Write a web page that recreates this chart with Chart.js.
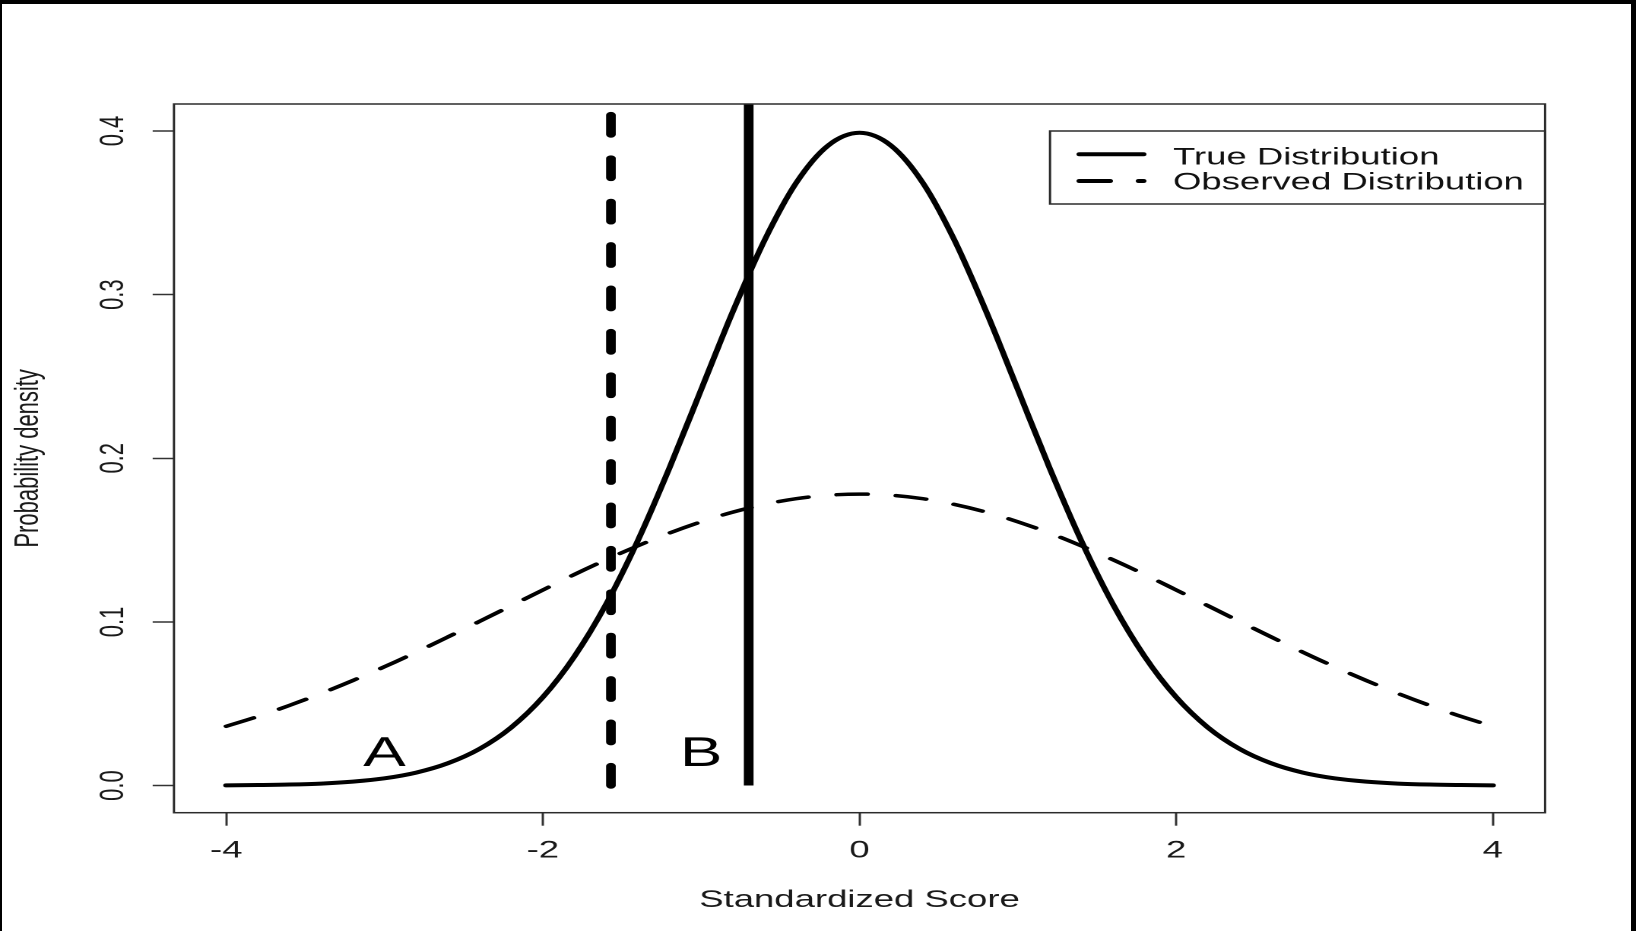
<!DOCTYPE html>
<html><head><meta charset="utf-8">
<script src="https://cdn.jsdelivr.net/npm/chart.js@4.4.1/dist/chart.umd.min.js"></script>
<style>
html,body{margin:0;padding:0;background:#fff;overflow:hidden;width:1636px;height:931px;}
#wrap{position:absolute;left:0;top:0;width:1076px;height:931px;transform:scaleX(1.52045);transform-origin:0 0;}
.fr{position:absolute;background:#000;}
</style></head><body>
<div id="wrap"><canvas id="c"></canvas></div>
<div class="fr" style="left:0;top:0;width:1636px;height:4px"></div>
<div class="fr" style="left:0;top:0;width:2px;height:931px"></div>
<div class="fr" style="left:1631px;top:0;width:5px;height:931px"></div>
<script>
// ---- data ----
const scores = [-4.0,-3.8,-3.6,-3.4,-3.2,-3.0,-2.8,-2.6,-2.4,-2.2,-2.0,-1.8,-1.6,-1.4,-1.2,-1.0,-0.8,-0.6,-0.4,-0.2,0.0,
                0.2,0.4,0.6,0.8,1.0,1.2,1.4,1.6,1.8,2.0,2.2,2.4,2.6,2.8,3.0,3.2,3.4,3.6,3.8,4.0];
const trueDensity = [0.0001,0.0003,0.0006,0.0012,0.0024,0.0044,0.0079,0.0136,0.0224,0.0355,0.0540,0.0790,0.1109,0.1497,0.1942,0.2420,0.2897,0.3332,0.3683,0.3910,0.3989,
                     0.3910,0.3683,0.3332,0.2897,0.2420,0.1942,0.1497,0.1109,0.0790,0.0540,0.0355,0.0224,0.0136,0.0079,0.0044,0.0024,0.0012,0.0006,0.0003,0.0001];
const observedDensity = [0.0362,0.0422,0.0490,0.0563,0.0642,0.0726,0.0815,0.0908,0.1003,0.1099,0.1195,0.1290,0.1380,0.1465,0.1543,0.1612,0.1671,0.1718,0.1753,0.1774,0.1781,
                         0.1774,0.1753,0.1718,0.1671,0.1612,0.1543,0.1465,0.1380,0.1290,0.1195,0.1099,0.1003,0.0908,0.0815,0.0726,0.0642,0.0563,0.0490,0.0422,0.0362];
const seriesNames = ['True Distribution','Observed Distribution'];
const cutoffScores = [-1.57, -0.70];          // observed (dashed), true (solid)
const annotationLabels = ['A','B'];
const annotationX = [-3.0, -1.0];
const annotationY = [0.019, 0.019];
const xTicks = [-4,-2,0,2,4];
const xTickLabels = ['-4','-2','0','2','4'];
const yTicks = [0,0.1,0.2,0.3,0.4];
const yTickLabels = ['0.0','0.1','0.2','0.3','0.4'];
const xTitle = 'Standardized Score';
const yTitle = 'Probability density';
const X_MIN = -4.33, X_MAX = 4.33, Y_MIN = -0.0166, Y_MAX = 0.4165;

const FAM = '"Liberation Sans", Arial, sans-serif';
Chart.defaults.font.family = FAM;
Chart.defaults.color = '#1a1a1a';

const pts = ys => scores.map((x, i) => ({x, y: ys[i]}));
const vline = c => [{x: c, y: 0}, {x: c, y: Y_MAX}];

const decor = {
  id: 'decor',
  afterDraw(chart) {
    const {ctx, chartArea: a, scales: {x, y}} = chart;
    ctx.save();
    // plot box
    ctx.strokeStyle = '#2b2b2b'; ctx.lineWidth = 1.5; ctx.setLineDash([]);
    ctx.strokeRect(a.left, a.top, a.right - a.left, a.bottom - a.top);
    // A / B annotations
    ctx.fillStyle = '#000';
    ctx.font = '42px ' + FAM;
    ctx.textAlign = 'center'; ctx.textBaseline = 'middle';
    annotationLabels.forEach((t, i) => ctx.fillText(t, x.getPixelForValue(annotationX[i]), y.getPixelForValue(annotationY[i])));
    // legend
    const L = {left: 690.6, top: 131, right: a.right, bottom: 204};
    ctx.strokeStyle = '#2b2b2b'; ctx.lineWidth = 1.5;
    ctx.strokeRect(L.left, L.top, L.right - L.left, L.bottom - L.top);
    const rows = [154.3, 181];
    const bases = [164.5, 189.5];
    ctx.font = '24px ' + FAM;
    ctx.textAlign = 'left'; ctx.textBaseline = 'alphabetic';
    [0, 1].forEach(i => {
      const ds = chart.data.datasets[i];
      ctx.strokeStyle = ds.borderColor; ctx.lineWidth = 4;
      ctx.lineCap = 'round';
      ctx.setLineDash(ds.borderDash || []);
      ctx.beginPath(); ctx.moveTo(710, rows[i]); ctx.lineTo(752, rows[i]); ctx.stroke();
      ctx.setLineDash([]);
      ctx.fillStyle = '#111';
      ctx.fillText(ds.label, 771.5, bases[i]);
    });
    ctx.restore();
  }
};

new Chart(document.getElementById('c'), {
  type: 'line',
  data: {
    datasets: [
      {label: seriesNames[0], data: pts(trueDensity), borderColor: '#000', borderWidth: 4,
       pointRadius: 0, cubicInterpolationMode: 'monotone', borderCapStyle: 'round', borderJoinStyle: 'round', fill: false},
      {label: seriesNames[1], data: pts(observedDensity), borderColor: '#000', borderWidth: 3.5, borderDash: [20, 19],
       pointRadius: 0, cubicInterpolationMode: 'monotone', borderCapStyle: 'round', borderJoinStyle: 'round', fill: false},
      {label: 'Observed cutoff', data: vline(cutoffScores[0]), borderColor: '#000', borderWidth: 6.4, borderDash: [19.4, 24],
       borderCapStyle: 'round', pointRadius: 0, clip: 0, fill: false},
      {label: 'True cutoff', data: vline(cutoffScores[1]), borderColor: '#000', borderWidth: 6.4,
       borderCapStyle: 'butt', pointRadius: 0, clip: 0, fill: false}
    ]
  },
  options: {
    responsive: true, maintainAspectRatio: false, animation: false, devicePixelRatio: 2,
    layout: {padding: {top: 104, right: 59.8, bottom: 0, left: 0}},
    plugins: {legend: {display: false}, tooltip: {enabled: false}},
    events: [],
    scales: {
      x: {
        type: 'linear', min: X_MIN, max: X_MAX,
        afterBuildTicks: s => { s.ticks = xTicks.map(v => ({value: v})); },
        afterFit: s => { s.height = 118.3; },
        ticks: {callback: (v, i) => xTickLabels[i], font: {size: 24}, color: '#1a1a1a', padding: 11, maxRotation: 0, autoSkip: false},
        grid: {drawOnChartArea: false, drawTicks: true, tickLength: 13, tickColor: '#333', tickWidth: 1.5},
        border: {display: false},
        title: {display: true, text: xTitle, font: {size: 24}, color: '#1a1a1a', padding: {top: 0, bottom: 16}}
      },
      y: {
        type: 'linear', min: Y_MIN, max: Y_MAX,
        afterBuildTicks: s => { s.ticks = yTicks.map(v => ({value: v})); },
        afterFit: s => { s.width = 114.4; },
        ticks: {callback: (v, i) => yTickLabels[i], font: {size: 22}, color: '#1a1a1a',
                minRotation: 90, maxRotation: 90, crossAlign: 'center', padding: 10, autoSkip: false},
        grid: {drawOnChartArea: false, drawTicks: true, tickLength: 14, tickColor: '#333', tickWidth: 1.5},
        border: {display: false},
        title: {display: true, text: yTitle, font: {size: 22}, color: '#1a1a1a', padding: {top: 5.8, bottom: 0}}
      }
    }
  },
  plugins: [decor]
});
</script>
</body></html>
